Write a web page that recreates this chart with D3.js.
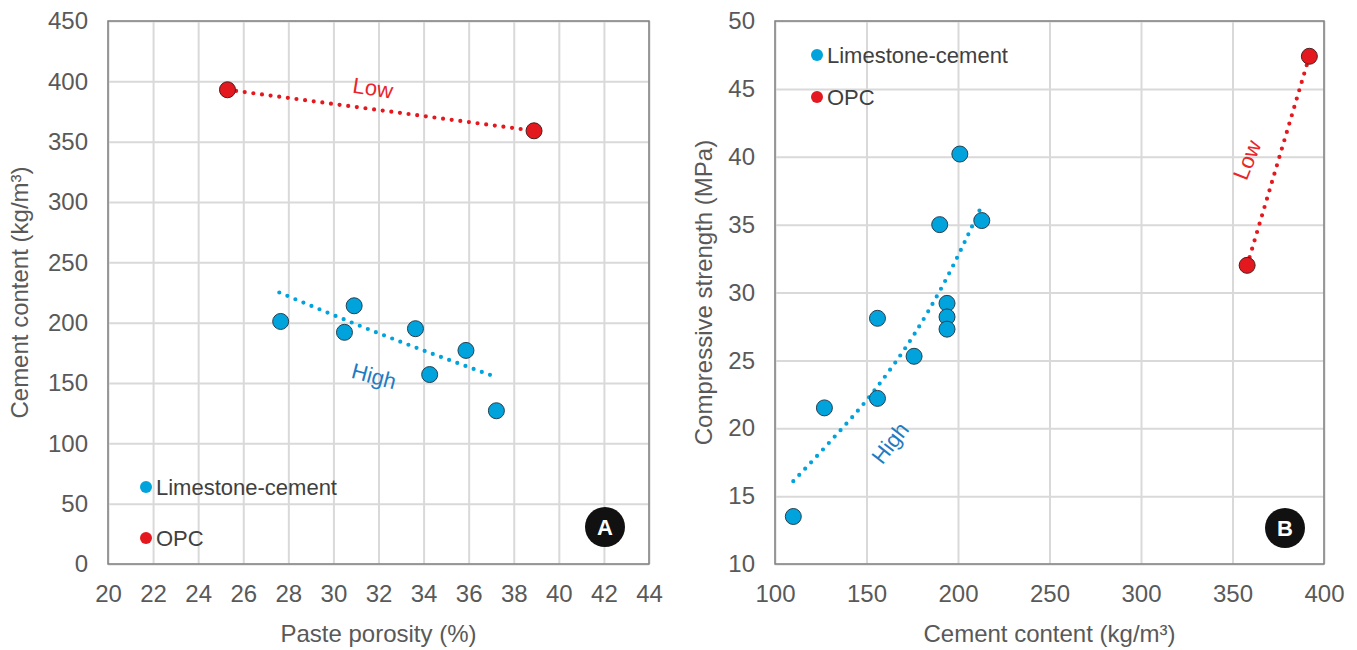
<!DOCTYPE html>
<html>
<head>
<meta charset="utf-8">
<script src="https://cdn.jsdelivr.net/npm/d3@7"></script>
<style>
  body { margin: 0; background: #fff; }
  text { font-family: "Liberation Sans", Arial, sans-serif; }
</style>
</head>
<body>
<div id="chart"></div>
<script>
// Panel A: paste porosity vs cement content
var porosityLC = [27.66, 30.49, 30.92, 33.64, 34.27, 35.88, 37.23];
var cementLC_A = [201, 192, 214, 195, 157, 177, 127];
var porosityOPC = [25.3, 38.9];
var cementOPC_A = [393, 359];
var trendA_x = [27.6, 31.9, 37.2];
var trendA_y = [225, 192, 155];
var ticksA_x = d3.range(20, 45, 2);
var ticksA_y = d3.range(0, 451, 50);

// Panel B: cement content vs compressive strength
var cementLC_B = [110, 127, 156, 156, 176, 194, 194, 194, 190, 201, 213];
var strengthLC_B = [13.5, 21.5, 28.1, 22.2, 25.3, 29.2, 28.2, 27.3, 35.0, 40.2, 35.3];
var cementOPC_B = [358, 392];
var strengthOPC_B = [32.0, 47.4];
var trendB_x = [110, 128, 155, 176, 192, 213];
var trendB_y = [16.1, 18.7, 22.9, 26.9, 30.6, 36.4];
var ticksB_x = d3.range(100, 401, 50);
var ticksB_y = d3.range(10, 51, 5);

var seriesNames = ["Limestone-cement", "OPC"];

var svgWidth = 1357;
var svgHeight = 650;
var blue = "#00a3dc";
var red = "#e4191f";
var textGray = "#595959";
var fontSize = 24;

var svg = d3.select("#chart")
  .append("svg")
  .attr("width", svgWidth)
  .attr("height", svgHeight);

function drawPanel(p) {
  var x = d3.scaleLinear().domain(p.xDomain).range([p.left, p.right]);
  var y = d3.scaleLinear().domain(p.yDomain).range([p.bottom, p.top]);
  var g = svg.append("g");

  // gridlines + tick labels
  var xAxis = g.append("g")
    .attr("transform", `translate(0, ${p.bottom})`)
    .call(d3.axisBottom(x).tickValues(p.xTicks).tickSizeInner(-(p.bottom - p.top)).tickSizeOuter(0).tickPadding(21));
  var yAxis = g.append("g")
    .attr("transform", `translate(${p.left}, 0)`)
    .call(d3.axisLeft(y).tickValues(p.yTicks).tickSizeInner(-(p.right - p.left)).tickSizeOuter(0).tickPadding(20));
  [xAxis, yAxis].forEach(function(a) {
    a.select(".domain").remove();
    a.selectAll("line").attr("stroke", "#d9d9d9").attr("stroke-width", 2);
    a.selectAll("text").attr("fill", textGray).attr("font-size", fontSize)
      .attr("font-family", "'Liberation Sans', Arial, sans-serif");
  });

  g.append("rect")
    .attr("x", p.left).attr("y", p.top)
    .attr("width", p.right - p.left).attr("height", p.bottom - p.top)
    .attr("fill", "none").attr("stroke", "#808080").attr("stroke-width", 1.5);

  // axis titles
  g.append("text")
    .attr("x", (p.left + p.right) / 2).attr("y", 642)
    .attr("text-anchor", "middle").attr("font-size", fontSize).attr("fill", textGray)
    .text(p.xTitle);
  g.append("text")
    .attr("transform", `translate(${p.yTitleX}, ${(p.top + p.bottom) / 2}) rotate(-90)`)
    .attr("text-anchor", "middle").attr("dy", "0.35em").attr("font-size", fontSize).attr("fill", textGray)
    .text(p.yTitle);

  // dotted trend lines
  var line = d3.line().x(d => x(d[0])).y(d => y(d[1])).curve(d3.curveMonotoneX);
  g.append("path")
    .datum(d3.zip(p.trendX, p.trendY))
    .attr("d", line)
    .attr("fill", "none").attr("stroke", blue).attr("stroke-width", 4.2)
    .attr("stroke-linecap", "round").attr("stroke-dasharray", "0 8.7");
  g.append("path")
    .datum(d3.zip(p.opcX, p.opcY))
    .attr("d", d3.line().x(d => x(d[0])).y(d => y(d[1])))
    .attr("fill", "none").attr("stroke", red).attr("stroke-width", 4.2)
    .attr("stroke-linecap", "round").attr("stroke-dasharray", "0 8.7");

  // points
  g.selectAll(".lc")
    .data(d3.zip(p.lcX, p.lcY))
    .enter()
    .append("circle")
    .attr("cx", d => x(d[0])).attr("cy", d => y(d[1])).attr("r", 8)
    .attr("fill", blue).attr("stroke", "#27404f").attr("stroke-width", 1);
  g.selectAll(".opc")
    .data(d3.zip(p.opcX, p.opcY))
    .enter()
    .append("circle")
    .attr("cx", d => x(d[0])).attr("cy", d => y(d[1])).attr("r", 8)
    .attr("fill", red).attr("stroke", "#4a1f1f").attr("stroke-width", 1);

  // High / Low labels
  g.append("text")
    .attr("transform", `translate(${p.highPos[0]}, ${p.highPos[1]}) rotate(${p.highPos[2]})`)
    .attr("text-anchor", "middle").attr("dy", "0.35em").attr("font-size", 22).attr("fill", "#1f7cc2")
    .text("High");
  g.append("text")
    .attr("transform", `translate(${p.lowPos[0]}, ${p.lowPos[1]}) rotate(${p.lowPos[2]})`)
    .attr("text-anchor", "middle").attr("dy", "0.35em").attr("font-size", 22).attr("fill", "#e8262b")
    .text("Low");

  // legend
  var leg = g.selectAll(".leg")
    .data(seriesNames)
    .enter()
    .append("g")
    .attr("transform", (d, i) => `translate(${p.legend[0]}, ${p.legend[1] + i * p.legend[2]})`);
  leg.append("circle").attr("r", 6).attr("fill", (d, i) => i === 0 ? blue : red);
  leg.append("text").attr("x", 10).attr("dy", "0.35em").attr("font-size", 22).attr("fill", "#404040")
    .text(d => d);

  // panel badge
  g.append("circle").attr("cx", p.badge[0]).attr("cy", p.badge[1]).attr("r", 20).attr("fill", "#111");
  g.append("text").attr("x", p.badge[0]).attr("y", p.badge[1]).attr("dy", "0.36em")
    .attr("text-anchor", "middle").attr("font-size", 22).attr("font-weight", "bold").attr("fill", "#fff")
    .text(p.badgeText);
}

drawPanel({
  left: 108, right: 649, top: 21, bottom: 564,
  xDomain: [20, 44], yDomain: [0, 450], xTicks: ticksA_x, yTicks: ticksA_y,
  xTitle: "Paste porosity (%)", yTitle: "Cement content (kg/m³)", yTitleX: 20,
  lcX: porosityLC, lcY: cementLC_A, opcX: porosityOPC, opcY: cementOPC_A,
  trendX: trendA_x, trendY: trendA_y,
  highPos: [374, 376, 15], lowPos: [373, 88, 9],
  legend: [146, 487, 51], badge: [605, 527], badgeText: "A"
});

drawPanel({
  left: 775, right: 1324, top: 21, bottom: 564,
  xDomain: [100, 400], yDomain: [10, 50], xTicks: ticksB_x, yTicks: ticksB_y,
  xTitle: "Cement content (kg/m³)", yTitle: "Compressive strength (MPa)", yTitleX: 704,
  lcX: cementLC_B, lcY: strengthLC_B, opcX: cementOPC_B, opcY: strengthOPC_B,
  trendX: trendB_x, trendY: trendB_y,
  highPos: [890, 443, -52], lowPos: [1247, 160, -68],
  legend: [817, 55, 42], badge: [1285, 528], badgeText: "B"
});
</script>
</body>
</html>
